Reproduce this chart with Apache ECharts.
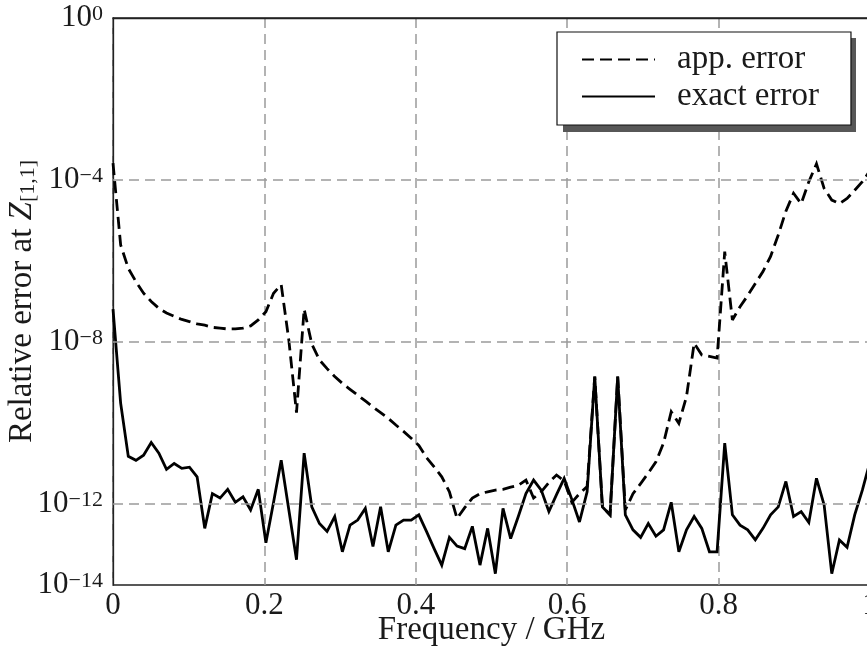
<!DOCTYPE html>
<html>
<head>
<meta charset="utf-8">
<script src="https://cdn.jsdelivr.net/npm/echarts@6/dist/echarts.min.js"></script>
<style>
  html, body { margin: 0; padding: 0; background: #fff; }
  #chart { width: 867px; height: 648px; }
</style>
</head>
<body>
<div id="chart"></div>
<script>
// Frequency sweep (GHz), 100 uniformly spaced samples from 0 to 1
const freqGHz = [
  0.0000, 0.0101, 0.0202, 0.0303, 0.0404, 0.0505, 0.0606, 0.0707, 0.0808, 0.0909,
  0.1010, 0.1111, 0.1212, 0.1313, 0.1414, 0.1515, 0.1616, 0.1717, 0.1818, 0.1919,
  0.2020, 0.2121, 0.2222, 0.2323, 0.2424, 0.2525, 0.2626, 0.2727, 0.2828, 0.2929,
  0.3030, 0.3131, 0.3232, 0.3333, 0.3434, 0.3535, 0.3636, 0.3737, 0.3838, 0.3939,
  0.4040, 0.4141, 0.4242, 0.4343, 0.4444, 0.4545, 0.4646, 0.4747, 0.4848, 0.4949,
  0.5051, 0.5152, 0.5253, 0.5354, 0.5455, 0.5556, 0.5657, 0.5758, 0.5859, 0.5960,
  0.6061, 0.6162, 0.6263, 0.6364, 0.6465, 0.6566, 0.6667, 0.6768, 0.6869, 0.6970,
  0.7071, 0.7172, 0.7273, 0.7374, 0.7475, 0.7576, 0.7677, 0.7778, 0.7879, 0.7980,
  0.8081, 0.8182, 0.8283, 0.8384, 0.8485, 0.8586, 0.8687, 0.8788, 0.8889, 0.8990,
  0.9091, 0.9192, 0.9293, 0.9394, 0.9495, 0.9596, 0.9697, 0.9798, 0.9899, 1.0000
];

// Estimated (approximate) relative error
const appError = [
  2.6e-4, 2.5e-6, 6.6e-7, 3.1e-7, 1.6e-7, 1.0e-7, 6.8e-8, 5.2e-8, 4.3e-8, 3.6e-8,
  3.2e-8, 2.8e-8, 2.6e-8, 2.3e-8, 2.2e-8, 2.1e-8, 2.1e-8, 2.2e-8, 2.5e-8, 3.5e-8,
  5.6e-8, 1.6e-7, 2.6e-7, 1.1e-8, 1.8e-10, 6.5e-8, 8.9e-9, 3.6e-9, 2.2e-9, 1.4e-9,
  9.5e-10, 6.8e-10, 4.9e-10, 3.5e-10, 2.5e-10, 1.8e-10, 1.3e-10, 8.9e-11, 6.2e-11, 4.2e-11,
  2.8e-11, 1.4e-11, 8.3e-12, 4.7e-12, 2.0e-12, 4.4e-13, 8.1e-13, 1.4e-12, 1.8e-12, 2.0e-12,
  2.2e-12, 2.3e-12, 2.6e-12, 2.9e-12, 3.9e-12, 1.4e-12, 2.0e-12, 3.4e-12, 5.2e-12, 3.7e-12,
  1.1e-12, 1.8e-12, 2.7e-12, 1.4e-9, 8.5e-13, 5.4e-13, 1.4e-9, 7.1e-13, 1.8e-12, 3.2e-12,
  5.8e-12, 1.1e-11, 3.2e-11, 1.9e-10, 9.8e-11, 4.5e-10, 9.3e-9, 4.8e-9, 4.4e-9, 4.0e-9,
  1.7e-6, 3.5e-8, 7.4e-8, 1.4e-7, 2.8e-7, 5.5e-7, 1.3e-6, 4.4e-6, 1.7e-5, 4.7e-5,
  2.6e-5, 9.1e-5, 2.5e-4, 6.2e-5, 3.2e-5, 2.6e-5, 3.5e-5, 5.6e-5, 9.1e-5, 1.7e-4
];

// Exact relative error
const exactError = [
  6.5e-8, 3.1e-10, 1.5e-11, 1.2e-11, 1.6e-11, 3.3e-11, 1.8e-11, 7.2e-12, 1.0e-11, 7.6e-12,
  8.1e-12, 4.7e-12, 2.5e-13, 1.8e-12, 1.4e-12, 2.3e-12, 1.1e-12, 1.5e-12, 7.1e-13, 2.3e-12,
  1.1e-13, 1.1e-12, 1.2e-11, 7.1e-13, 4.2e-14, 1.8e-11, 8.5e-13, 3.3e-13, 2.1e-13, 4.9e-13,
  6.6e-14, 3.0e-13, 4.0e-13, 7.8e-13, 8.9e-14, 8.5e-13, 6.6e-14, 3.0e-13, 4.0e-13, 4.0e-13,
  5.4e-13, 2.1e-13, 7.9e-14, 3.1e-14, 1.5e-13, 9.1e-14, 7.9e-14, 2.8e-13, 3.1e-14, 2.5e-13,
  1.9e-14, 7.8e-13, 1.4e-13, 4.9e-13, 1.8e-12, 3.9e-12, 2.2e-12, 6.5e-13, 1.7e-12, 4.3e-12,
  1.3e-12, 3.6e-13, 2.0e-12, 1.4e-9, 8.5e-13, 5.4e-13, 1.4e-9, 5.4e-13, 2.3e-13, 1.5e-13,
  3.3e-13, 1.6e-13, 2.3e-13, 1.1e-12, 6.6e-14, 2.3e-13, 4.9e-13, 2.5e-13, 6.6e-14, 6.6e-14,
  3.2e-11, 5.4e-13, 3.0e-13, 2.3e-13, 1.3e-13, 2.5e-13, 5.4e-13, 8.5e-13, 3.6e-12, 4.9e-13,
  6.5e-13, 3.5e-13, 4.3e-12, 9.5e-13, 1.9e-14, 1.3e-13, 8.5e-14, 5.4e-13, 2.2e-12, 1.1e-11
];

// Decades that carry a tick label, and decades that carry a grid line
const labelledDecades = [0, -4, -8, -12, -14];
const gridDecades = [-4, -8, -12];

const FONT = '"Liberation Serif", "DejaVu Serif", serif';
const INK = '#1a1a1a';

// The y axis works in decades (log10 of the relative error)
const toPoints = vals => freqGHz.map((f, i) => [f, Math.log10(vals[i])]);

const gridDash = { type: [10, 6], color: '#9a9a9a', width: 1.5 };

const chart = echarts.init(document.getElementById('chart'), null, { renderer: 'canvas' });

chart.setOption({
  animation: false,
  textStyle: { fontFamily: FONT, color: INK },
  grid: {
    left: 113, top: 18, width: 757, height: 567,
    containLabel: false,
    outerBoundsMode: 'none',
    show: true, borderColor: '#222', borderWidth: 1.3, backgroundColor: 'transparent'
  },
  // hard drop shadow behind the legend frame
  graphic: [{
    type: 'rect',
    left: 563, top: 38,
    shape: { width: 293, height: 94 },
    style: { fill: '#575757' },
    z: 4,
    silent: true
  }],
  legend: {
    orient: 'vertical',
    left: 557, top: 32,
    z: 5,
    padding: [11, 32, 12, 24],
    itemWidth: 73, itemHeight: 30, itemGap: 4,
    backgroundColor: '#fff',
    borderColor: '#111', borderWidth: 1.2, borderRadius: 0,
    selectedMode: false,
    itemStyle: { opacity: 0 },
    data: ['app. error', 'exact error'],
    textStyle: { fontFamily: FONT, fontSize: 33, color: INK, lineHeight: 30, padding: [0, 0, 0, 17] }
  },
  xAxis: {
    type: 'value', min: 0, max: 1, interval: 0.2,
    name: 'Frequency / GHz',
    nameLocation: 'middle', nameGap: 29,
    nameMoveOverlap: false,
    nameTextStyle: { fontFamily: FONT, fontSize: 33, color: INK, lineHeight: 33 },
    axisLine: { show: true, lineStyle: { color: '#222', width: 1.3 } },
    axisTick: { show: false },
    axisLabel: { fontFamily: FONT, fontSize: 31, color: INK, margin: 5, showMaxLabel: true, hideOverlap: false },
    splitLine: { show: true, lineStyle: gridDash }
  },
  yAxis: {
    type: 'value', min: -14, max: 0, interval: 2,
    name: '{t|Relative error at }{z|Z}{s|[1,1]}',
    nameLocation: 'middle', nameGap: 74, nameRotate: 90,
    nameMoveOverlap: false,
    nameTextStyle: {
      fontFamily: FONT, color: INK,
      rich: {
        t: { fontFamily: FONT, fontSize: 33, lineHeight: 34, color: INK },
        z: { fontFamily: FONT, fontSize: 33, lineHeight: 34, fontStyle: 'italic', color: INK },
        s: { fontFamily: FONT, fontSize: 22, lineHeight: 16, verticalAlign: 'bottom', color: INK }
      }
    },
    axisLine: { show: true, lineStyle: { color: '#222', width: 1.3 } },
    axisTick: { show: false },
    splitLine: { show: false },
    axisLabel: {
      margin: 10,
      formatter: v => {
        const d = Math.round(v);
        if (labelledDecades.indexOf(d) < 0) return '';
        const exp = d < 0 ? '\u2212' + (-d) : String(d);
        return '{b|10}{e|' + exp + '}';
      },
      rich: {
        b: { fontFamily: FONT, fontSize: 31, lineHeight: 30, color: INK },
        e: { fontFamily: FONT, fontSize: 22, lineHeight: 20, verticalAlign: 'top', color: INK }
      }
    }
  },
  series: [
    {
      // horizontal grid lines at selected decades, kept beneath the curves
      name: 'grid',
      type: 'line',
      data: [],
      z: 1,
      silent: true,
      markLine: {
        silent: true,
        symbol: ['none', 'none'],
        label: { show: false },
        lineStyle: gridDash,
        data: gridDecades.map(d => ({ yAxis: d }))
      }
    },
    {
      name: 'app. error',
      type: 'line',
      z: 3,
      data: toPoints(appError),
      symbol: 'none',
      lineStyle: { color: '#000', width: 2.8, type: [12, 6], join: 'miter', miterLimit: 3 },
      itemStyle: { color: '#000' }
    },
    {
      name: 'exact error',
      type: 'line',
      z: 3,
      data: toPoints(exactError),
      symbol: 'none',
      lineStyle: { color: '#000', width: 2.8, type: 'solid', join: 'miter', miterLimit: 3 },
      itemStyle: { color: '#000' }
    }
  ]
});
</script>
</body>
</html>
